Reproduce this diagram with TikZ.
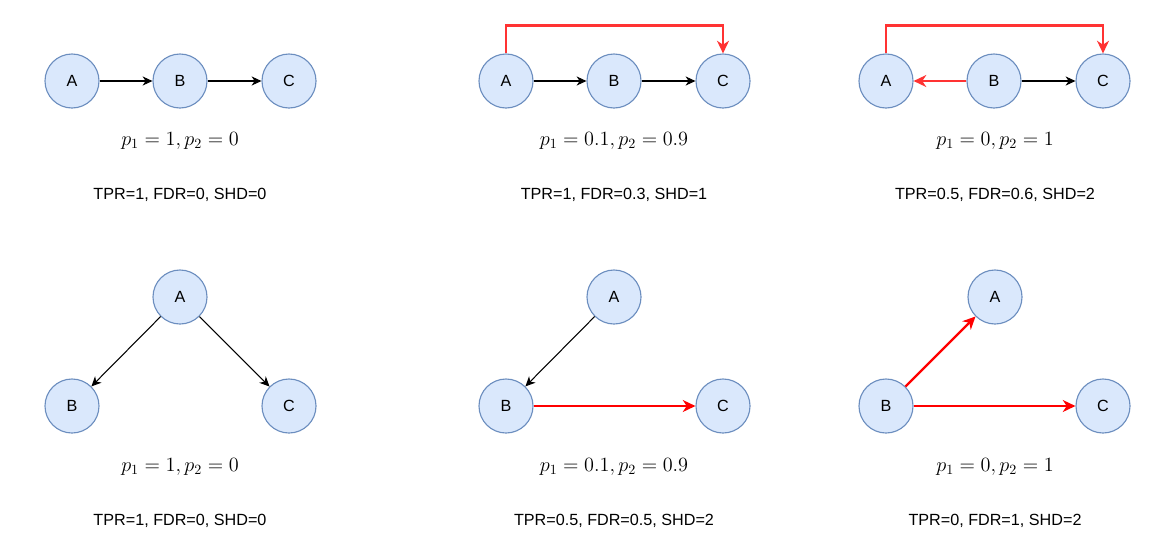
\documentclass[tikz,border=0pt]{standalone}
\usepackage{amsmath, amssymb}
\usepackage{fontspec}
\setsansfont{Liberation Sans}
\usetikzlibrary{arrows.meta,positioning}
\definecolor{nodefill}{HTML}{DAE8FC}
\definecolor{nodeline}{HTML}{6C8EBF}
\definecolor{lightred}{HTML}{FF3333}

\begin{document}
\begin{tikzpicture}[x=0.025cm, y=-0.025cm,
  var/.style={circle, draw=nodeline, fill=nodefill, line width=0.8pt,
    minimum size=1.35cm, inner sep=0pt, font=\sffamily\fontsize{11.5}{13}\selectfont},
  edge/.style={-{Stealth[length=7pt, width=6.5pt, inset=2.2pt]}, line width=0.75pt},
  redge/.style={-{Stealth[length=9pt, width=8.5pt, inset=2.8pt]}, line width=1.7pt, red},
  formula/.style={font=\fontsize{14.5}{17}\selectfont},
  metric/.style={font=\sffamily\fontsize{11.5}{14}\selectfont}]
  \useasboundingbox (0,0) rectangle (1168,535);

  % 第一行：链 A -> B -> C
  \node[var] (a1) at (72,81) {A};
  \node[var] (b1) at (180,81) {B};
  \node[var] (c1) at (289,81) {C};
  \draw[edge] (a1) -- (b1);
  \draw[edge] (b1) -- (c1);
  \node[formula] (f1) at (180,141) {$p_1 = 1, p_2 = 0$};
  \node[metric] (m1) at (180,195) {TPR=1, FDR=0, SHD=0};

  \node[var] (a2) at (506,81) {A};
  \node[var] (b2) at (614,81) {B};
  \node[var] (c2) at (723,81) {C};
  \draw[edge] (a2) -- (b2);
  \draw[edge] (b2) -- (c2);
  \draw[redge, lightred] (a2.north) -- ++(0,-28) -| (c2.north); % 多余的边
  \node[formula] (f2) at (614,141) {$p_1 = 0.1, p_2 = 0.9$};
  \node[metric] (m2) at (614,195) {TPR=1, FDR=0.3, SHD=1};

  \node[var] (a3) at (886,81) {A};
  \node[var] (b3) at (994,81) {B};
  \node[var] (c3) at (1103,81) {C};
  \draw[redge, lightred] (b3) -- (a3); % 反向
  \draw[edge] (b3) -- (c3);
  \draw[redge, lightred] (a3.north) -- ++(0,-28) -| (c3.north);
  \node[formula] (f3) at (995,141) {$p_1 = 0, p_2 = 1$};
  \node[metric] (m3) at (995,195) {TPR=0.5, FDR=0.6, SHD=2};

  % 第二行：分叉 B <- A -> C
  \node[var] (a4) at (180,297) {A};
  \node[var] (b4) at (72,406) {B};
  \node[var] (c4) at (289,406) {C};
  \draw[edge] (a4) -- (b4);
  \draw[edge] (a4) -- (c4);
  \node[formula] (f4) at (180,467) {$p_1 = 1, p_2 = 0$};
  \node[metric] (m4) at (180,521) {TPR=1, FDR=0, SHD=0};

  \node[var] (a5) at (614,297) {A};
  \node[var] (b5) at (506,406) {B};
  \node[var] (c5) at (723,406) {C};
  \draw[edge] (a5) -- (b5);
  \draw[redge] (b5) -- (c5);
  \node[formula] (f5) at (614,467) {$p_1 = 0.1, p_2 = 0.9$};
  \node[metric] (m5) at (614,521) {TPR=0.5, FDR=0.5, SHD=2};

  \node[var] (a6) at (995,297) {A};
  \node[var] (b6) at (886,406) {B};
  \node[var] (c6) at (1103,406) {C};
  \draw[redge] (b6) -- (a6);
  \draw[redge] (b6) -- (c6);
  \node[formula] (f6) at (995,467) {$p_1 = 0, p_2 = 1$};
  \node[metric] (m6) at (995,521) {TPR=0, FDR=1, SHD=2};
\end{tikzpicture}
\end{document}
